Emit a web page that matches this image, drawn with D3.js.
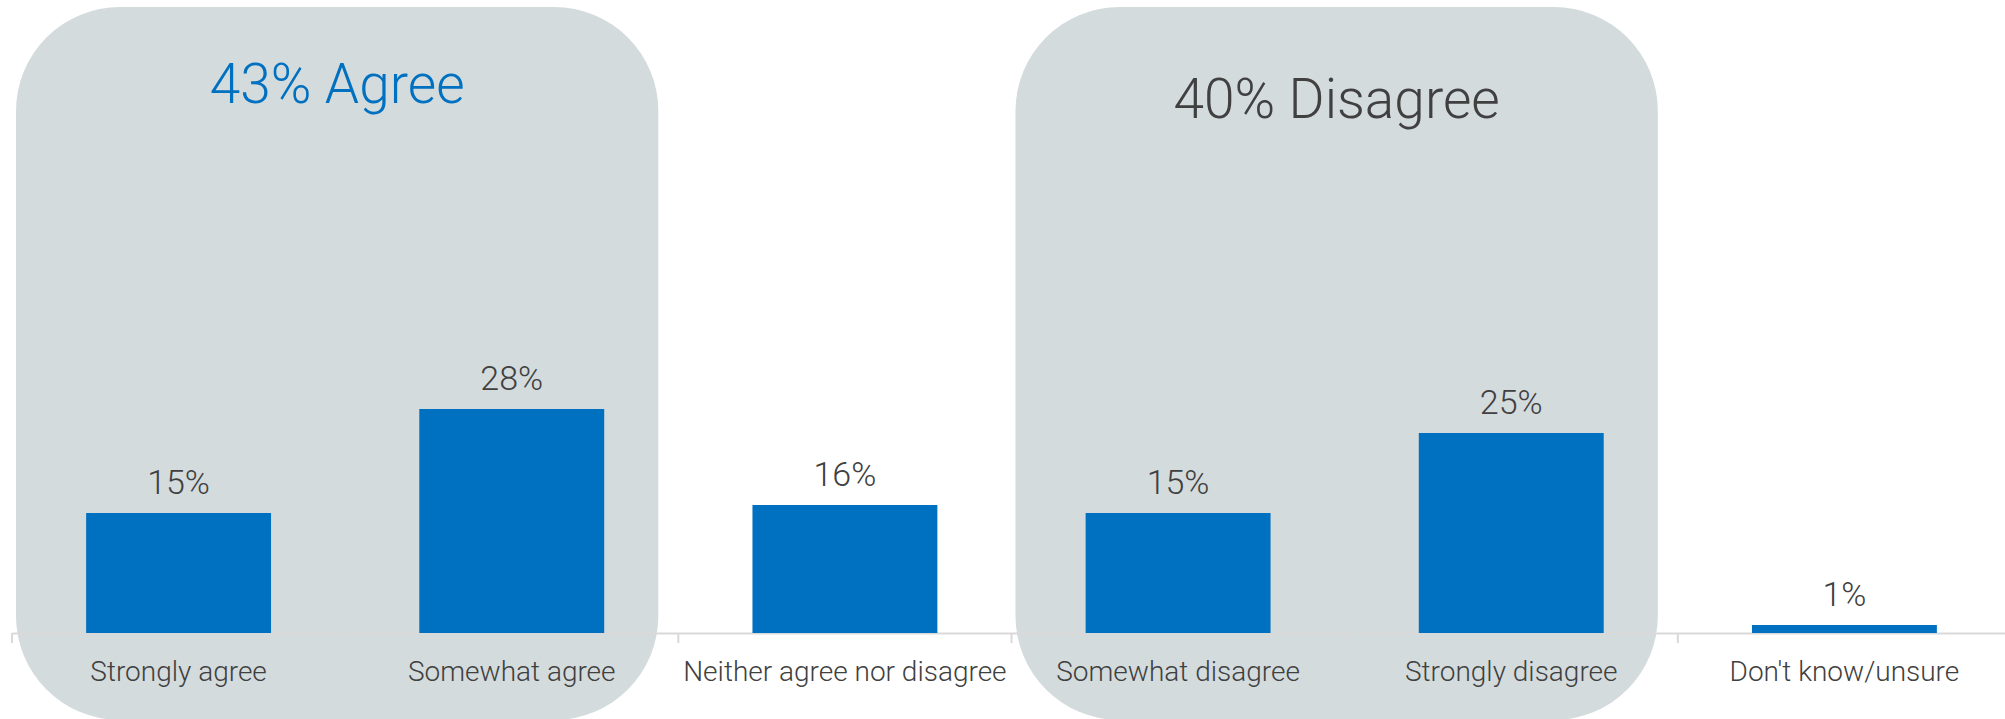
<!DOCTYPE html>
<html>
<head>
<meta charset="utf-8">
<script src="https://cdn.jsdelivr.net/npm/d3@7"></script>
<style>
  html, body { margin: 0; padding: 0; background: #ffffff; }
  svg { display: block; }
  text { font-family: Roboto, "Liberation Sans", Arial, sans-serif; font-weight: 300; }
</style>
</head>
<body>
<svg id="chart" width="2005" height="719"></svg>
<script>
// Survey responses (% of respondents)
const categories = [
  "Strongly agree",
  "Somewhat agree",
  "Neither agree nor disagree",
  "Somewhat disagree",
  "Strongly disagree",
  "Don't know/unsure"
];
const values = [15, 28, 16, 15, 25, 1];

// Grouped summaries shown as rounded panels behind the bars
const groupLabels = ["43% Agree", "40% Disagree"];
const groupMembers = [
  ["Strongly agree", "Somewhat agree"],
  ["Somewhat disagree", "Strongly disagree"]
];

const svg = d3.select("#chart");

const x = d3.scaleBand()
  .domain(categories)
  .range([12, 2011])
  .paddingInner(0.445)
  .paddingOuter(0.2225);

const y = d3.scaleLinear()
  .domain([0, 30])
  .range([633, 393]);

const step = x.step();
const bandLeft = c => x(c) - step * x.paddingInner() / 2;

// Rounded background panels
const panels = groupMembers.map(m => {
  const x0 = bandLeft(m[0]) + 4;
  const x1 = bandLeft(m[m.length - 1]) + step - 20;
  return { x0, x1 };
});

svg.selectAll("rect.panel")
  .data(panels)
  .join("rect")
  .attr("class", "panel")
  .attr("x", d => d.x0)
  .attr("y", 7)
  .attr("width", d => d.x1 - d.x0)
  .attr("height", 713)
  .attr("rx", 104)
  .attr("ry", 104)
  .attr("fill", "#d3dbdd");

svg.selectAll("text.group")
  .data(panels)
  .join("text")
  .attr("class", "group")
  .attr("x", d => (d.x0 + d.x1) / 2)
  .attr("y", (d, i) => i === 0 ? 103 : 118)
  .attr("text-anchor", "middle")
  .attr("font-size", 55)
  .attr("fill", (d, i) => i === 0 ? "#0070c0" : "#404040")
  .text((d, i) => groupLabels[i]);

// Axis with band-edge tick marks
const axis = svg.append("g")
  .attr("transform", `translate(0,${y(0)})`)
  .call(d3.axisBottom(x).tickSize(0).tickSizeOuter(0));

axis.select(".domain").attr("stroke", "#d9d9d9").attr("stroke-width", 2);
axis.selectAll(".tick text")
  .attr("y", 48)
  .attr("dy", 0)
  .attr("font-size", 28)
  .attr("font-family", "Roboto, Liberation Sans, Arial, sans-serif")
  .attr("font-weight", 300)
  .attr("fill", "#404040");

const edges = categories.map(bandLeft).concat([bandLeft(categories[categories.length - 1]) + step]);
svg.append("g")
  .selectAll("line")
  .data(edges)
  .join("line")
  .attr("x1", d => d)
  .attr("x2", d => d)
  .attr("y1", y(0))
  .attr("y2", y(0) + 10)
  .attr("stroke", "#d9d9d9")
  .attr("stroke-width", 2);

// Bars
const data = categories.map((c, i) => ({ c, v: values[i] }));
svg.append("g")
  .selectAll("rect")
  .data(data)
  .join("rect")
  .attr("x", d => x(d.c))
  .attr("y", d => y(d.v))
  .attr("width", x.bandwidth())
  .attr("height", d => y(0) - y(d.v))
  .attr("fill", "#0070c0");

// Value labels
svg.append("g")
  .selectAll("text")
  .data(data)
  .join("text")
  .attr("x", d => x(d.c) + x.bandwidth() / 2)
  .attr("y", d => y(d.v) - 19)
  .attr("text-anchor", "middle")
  .attr("font-size", 34)
  .attr("fill", "#404040")
  .text(d => d.v + "%");
</script>
</body>
</html>
